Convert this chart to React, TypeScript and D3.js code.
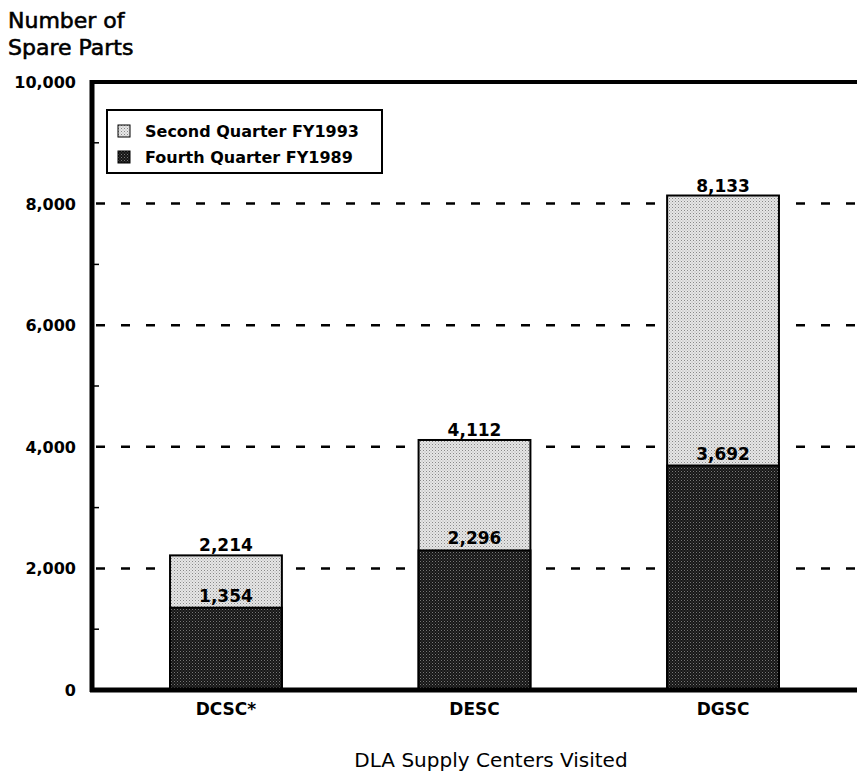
import { useEffect, useRef } from "react";
import * as d3 from "d3";

const CENTERS = ["DCSC*", "DESC", "DGSC"];
const FY1993 = [2214, 4112, 8133];
const FY1989 = [1354, 2296, 3692];
const MAJOR_TICKS = [0, 2000, 4000, 6000, 8000, 10000];
const MINOR_TICKS = [1000, 3000, 5000, 7000, 9000];
const GRID_TICKS = [2000, 4000, 6000, 8000];
const LEGEND = ["Second Quarter FY1993", "Fourth Quarter FY1989"];

const W = 857;
const H = 775;
const FONT = "'DejaVu Sans', Verdana, sans-serif";

export default function App() {
  const svgRef = useRef<SVGSVGElement>(null);

  useEffect(() => {
    const svg = d3.select(svgRef.current);
    svg.selectAll("*").remove();

    const left = 92;
    const right = W;
    const top = 82;
    const bottom = 690;

    const x = d3
      .scaleBand()
      .domain(CENTERS)
      .range([left, right])
      .paddingInner(0.55)
      .paddingOuter(0.314);
    const y = d3.scaleLinear().domain([0, 10000]).range([bottom, top]);

    // stipple fills, like the printed original
    const defs = svg.append("defs");
    const light = defs
      .append("pattern")
      .attr("id", "light")
      .attr("width", 3)
      .attr("height", 3)
      .attr("patternUnits", "userSpaceOnUse");
    light.append("rect").attr("width", 3).attr("height", 3).attr("fill", "#e6e6e6");
    light.append("rect").attr("width", 1).attr("height", 1).attr("fill", "#888");
    light.append("rect").attr("x", 1.5).attr("y", 1.5).attr("width", 1).attr("height", 1).attr("fill", "#aaa");

    const dark = defs
      .append("pattern")
      .attr("id", "dark")
      .attr("width", 3)
      .attr("height", 3)
      .attr("patternUnits", "userSpaceOnUse");
    dark.append("rect").attr("width", 3).attr("height", 3).attr("fill", "#161616");
    dark.append("rect").attr("width", 1).attr("height", 1).attr("fill", "#777");
    dark.append("rect").attr("x", 1.5).attr("y", 1.5).attr("width", 1).attr("height", 1).attr("fill", "#555");

    // dashed grid
    svg
      .append("g")
      .selectAll("line")
      .data(GRID_TICKS)
      .join("line")
      .attr("x1", left + 4)
      .attr("x2", right)
      .attr("y1", (d) => y(d))
      .attr("y2", (d) => y(d))
      .attr("stroke", "#000")
      .attr("stroke-width", 2.5)
      .attr("stroke-dasharray", "9,16");

    // minor ticks
    svg
      .append("g")
      .selectAll("line")
      .data(MINOR_TICKS)
      .join("line")
      .attr("x1", left)
      .attr("x2", left + 7)
      .attr("y1", (d) => y(d))
      .attr("y2", (d) => y(d))
      .attr("stroke", "#000")
      .attr("stroke-width", 1.5);

    // bars: FY1993 behind, FY1989 in front, both from zero
    const rows = CENTERS.map((c, i) => ({ c, a: FY1993[i], b: FY1989[i] }));
    const g = svg.append("g");
    g.selectAll("rect.a")
      .data(rows)
      .join("rect")
      .attr("class", "a")
      .attr("x", (d) => x(d.c)!)
      .attr("y", (d) => y(d.a))
      .attr("width", x.bandwidth())
      .attr("height", (d) => bottom - y(d.a))
      .attr("fill", "url(#light)")
      .attr("stroke", "#000")
      .attr("stroke-width", 2);
    g.selectAll("rect.b")
      .data(rows)
      .join("rect")
      .attr("class", "b")
      .attr("x", (d) => x(d.c)!)
      .attr("y", (d) => y(d.b))
      .attr("width", x.bandwidth())
      .attr("height", (d) => bottom - y(d.b))
      .attr("fill", "url(#dark)")
      .attr("stroke", "#000")
      .attr("stroke-width", 2);

    const fmt = d3.format(",");
    g.selectAll("text.ta")
      .data(rows)
      .join("text")
      .attr("class", "ta")
      .attr("x", (d) => x(d.c)! + x.bandwidth() / 2)
      .attr("y", (d) => y(d.a) - 4)
      .attr("text-anchor", "middle")
      .attr("font-family", FONT)
      .attr("font-weight", "bold")
      .attr("font-size", 17)
      .text((d) => fmt(d.a));
    g.selectAll("text.tb")
      .data(rows)
      .join("text")
      .attr("class", "tb")
      .attr("x", (d) => x(d.c)! + x.bandwidth() / 2)
      .attr("y", (d) => y(d.b) - 6)
      .attr("text-anchor", "middle")
      .attr("font-family", FONT)
      .attr("font-weight", "bold")
      .attr("font-size", 17)
      .text((d) => fmt(d.b));

    // frame: top, left, bottom
    svg
      .append("line")
      .attr("x1", left - 2)
      .attr("x2", right)
      .attr("y1", top)
      .attr("y2", top)
      .attr("stroke", "#000")
      .attr("stroke-width", 4);
    svg
      .append("line")
      .attr("x1", left)
      .attr("x2", left)
      .attr("y1", top - 2)
      .attr("y2", bottom + 2)
      .attr("stroke", "#000")
      .attr("stroke-width", 5);
    svg
      .append("line")
      .attr("x1", left - 2)
      .attr("x2", right)
      .attr("y1", bottom)
      .attr("y2", bottom)
      .attr("stroke", "#000")
      .attr("stroke-width", 5);

    // y tick labels
    svg
      .append("g")
      .selectAll("text")
      .data(MAJOR_TICKS)
      .join("text")
      .attr("x", 76)
      .attr("y", (d) => y(d) + 6)
      .attr("text-anchor", "end")
      .attr("font-family", FONT)
      .attr("font-weight", "bold")
      .attr("font-size", 16)
      .text((d) => fmt(d));

    // x labels
    svg
      .append("g")
      .selectAll("text")
      .data(CENTERS)
      .join("text")
      .attr("x", (d) => x(d)! + x.bandwidth() / 2)
      .attr("y", 715)
      .attr("text-anchor", "middle")
      .attr("font-family", FONT)
      .attr("font-weight", "bold")
      .attr("font-size", 17)
      .text((d) => d);

    svg
      .append("text")
      .attr("x", 491)
      .attr("y", 767)
      .attr("text-anchor", "middle")
      .attr("font-family", FONT)
      .attr("font-size", 20)
      .text("DLA Supply Centers Visited");

    const yTitle = svg
      .append("text")
      .attr("font-family", FONT)
      .attr("font-size", 22)
      .attr("stroke", "#000")
      .attr("stroke-width", 0.6);
    yTitle.append("tspan").attr("x", 8).attr("y", 28).text("Number of");
    yTitle.append("tspan").attr("x", 8).attr("y", 55).text("Spare Parts");

    // legend
    const lg = svg.append("g").attr("transform", "translate(107,110)");
    lg.append("rect")
      .attr("width", 275)
      .attr("height", 63)
      .attr("fill", "#fff")
      .attr("stroke", "#000")
      .attr("stroke-width", 2);
    LEGEND.forEach((t, i) => {
      const row = lg.append("g").attr("transform", `translate(11,${15 + i * 26})`);
      row
        .append("rect")
        .attr("width", 12)
        .attr("height", 12)
        .attr("fill", i === 0 ? "url(#light)" : "url(#dark)")
        .attr("stroke", "#000")
        .attr("stroke-width", 1);
      row
        .append("text")
        .attr("x", 27)
        .attr("y", 12)
        .attr("font-family", FONT)
        .attr("font-weight", "bold")
        .attr("font-size", 16)
        .text(t);
    });
  }, []);

  return (
    <div style={{ position: "absolute", left: 0, top: 0, background: "#fff" }}>
      <svg ref={svgRef} width={W} height={H} style={{ display: "block" }} />
    </div>
  );
}
